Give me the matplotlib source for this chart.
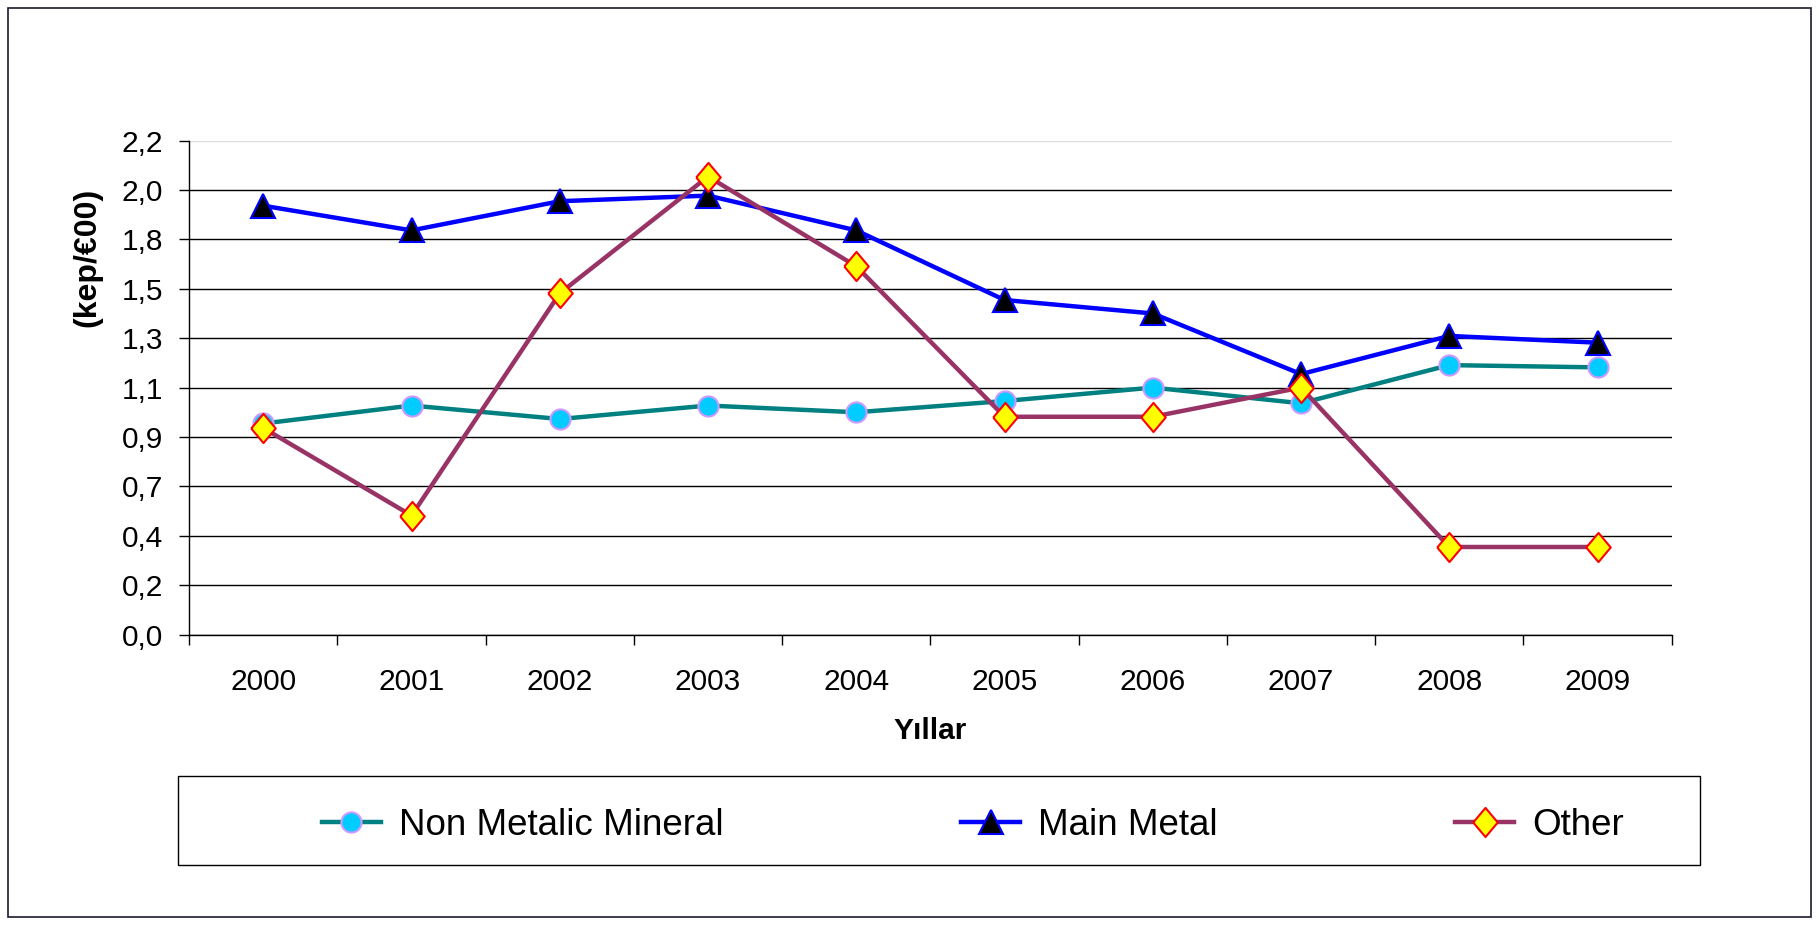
import numpy as np
import matplotlib
matplotlib.use('Agg')
import matplotlib.pyplot as plt
from matplotlib.patches import Rectangle

plt.rcParams['font.family'] = ['Liberation Sans', 'DejaVu Sans']

years = ['2000', '2001', '2002', '2003', '2004', '2005', '2006', '2007', '2008', '2009']
non_metalic = [0.94, 1.02, 0.96, 1.02, 0.99, 1.04, 1.10, 1.03, 1.20, 1.19]
main_metal = [1.91, 1.80, 1.93, 1.955, 1.80, 1.49, 1.43, 1.16, 1.33, 1.30]
other = [0.92, 0.53, 1.52, 2.04, 1.64, 0.97, 0.97, 1.10, 0.39, 0.39]
y_ticks = [0.0, 0.22, 0.44, 0.66, 0.88, 1.1, 1.32, 1.54, 1.76, 1.98, 2.2]
y_labels = ['0,0', '0,2', '0,4', '0,7', '0,9', '1,1', '1,3', '1,5', '1,8', '2,0', '2,2']

# diamond a bit wider than matplotlib's thin 'd'
diamond = [(-0.42, 0), (0, 0.5), (0.42, 0), (0, -0.5), (-0.42, 0)]

fig = plt.figure(figsize=(18.19, 9.25), dpi=100)
ax = fig.add_axes([0.104, 0.314, 0.815, 0.534])

x = np.arange(len(years))
ax.plot(x, non_metalic, color='#008080', lw=3.2, marker='o', ms=14.5,
        mfc='#00CCFF', mec='#CC99FF', mew=1.5, label='Non Metalic Mineral', zorder=3)
ax.plot(x, main_metal, color='#0000FF', lw=3.2, marker='^', ms=17,
        mfc='black', mec='#0000FF', mew=1.5, label='Main Metal', zorder=4)
ax.plot(x, other, color='#993366', lw=3.2, marker=diamond, ms=21,
        mfc='#FFFF00', mec='#FF0000', mew=1.5, label='Other', zorder=5)

ax.set_xlim(-0.5, 9.5)
ax.set_ylim(0, 2.2)
ax.set_yticks(y_ticks)
ax.set_yticklabels(y_labels)
ax.set_xticks(np.arange(-0.5, 10, 1))
ax.set_xticklabels([])
ax.set_xticks(x, minor=True)
ax.set_xticklabels(years, minor=True)
ax.tick_params(axis='x', which='major', length=7, width=1, color='black')
ax.tick_params(axis='x', which='minor', length=0, pad=24, labelsize=21.5)
ax.tick_params(axis='y', length=7, width=1, pad=12, labelsize=21.5)

ax.yaxis.grid(True, color='black', lw=1)
ax.get_ygridlines()[-1].set_color('#dddddd')
ax.set_axisbelow(True)
for s in ['top', 'right']:
    ax.spines[s].set_visible(False)
for s in ['left', 'bottom']:
    ax.spines[s].set_color('black')
    ax.spines[s].set_linewidth(1)

ax.set_xlabel('Yıllar', fontsize=21.5, fontweight='bold', labelpad=15)
ax.set_ylabel('(kep/€00)', fontsize=23, fontweight='bold')
ax.yaxis.set_label_coords(-0.0587, 0.763)

# legend box
fig.patches.append(Rectangle((0.0976, 0.065), 0.837, 0.096, transform=fig.transFigure,
                             fill=False, ec='black', lw=1))
fig.legend(loc='center', bbox_to_anchor=(0.177, 0.068, 0.716, 0.08), ncol=3,
           mode='expand', frameon=False, fontsize=26.5, handlelength=1.6,
           handletextpad=0.5, borderpad=0, borderaxespad=0)

# outer border
fig.patches.append(Rectangle((0.0045, 0.009), 0.991, 0.982, transform=fig.transFigure,
                             fill=False, ec='#1a1a2e', lw=1.2))

plt.savefig('out.png', dpi=100)
